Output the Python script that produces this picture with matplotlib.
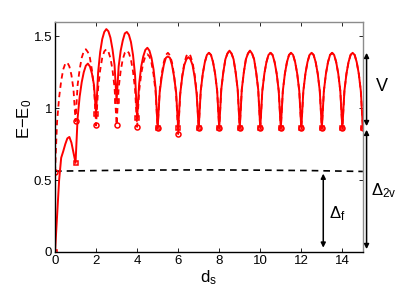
import numpy as np
import matplotlib
matplotlib.use("Agg")
from matplotlib import pyplot as plt

plt.rcParams['font.family'] = ['Liberation Sans', 'DejaVu Sans']
plt.rcParams['mathtext.fontset'] = 'custom'
plt.rcParams['mathtext.rm'] = 'Liberation Sans'
plt.rcParams['mathtext.it'] = 'Liberation Sans'

# d_s sampled every 0.1 from 0 to 15
d_s = np.linspace(0, 15, 151)

# solid curve, one row per unit interval of d_s
solid_rows = [
    [0.00, 0.25, 0.50, 0.655, 0.70, 0.75, 0.79, 0.80, 0.76, 0.69],
    [0.62, 0.93, 1.08, 1.18, 1.25, 1.295, 1.31, 1.29, 1.24, 1.16],
    [0.96, 1.25, 1.39, 1.48, 1.53, 1.55, 1.535, 1.49, 1.41, 1.30],
    [1.05, 1.29, 1.40, 1.47, 1.52, 1.53, 1.51, 1.46, 1.37, 1.23],
    [0.93, 1.17, 1.29, 1.36, 1.405, 1.42, 1.40, 1.35, 1.27, 1.14],
    [0.86, 1.11, 1.22, 1.30, 1.35, 1.36, 1.35, 1.30, 1.22, 1.11],
    [0.86, 1.10, 1.22, 1.30, 1.34, 1.355, 1.34, 1.30, 1.22, 1.10],
    [0.86, 1.12, 1.24, 1.32, 1.37, 1.385, 1.37, 1.32, 1.24, 1.12],
    [0.86, 1.13, 1.25, 1.34, 1.38, 1.40, 1.38, 1.34, 1.25, 1.13],
    [0.86, 1.13, 1.25, 1.34, 1.38, 1.40, 1.38, 1.34, 1.25, 1.13],
    [0.86, 1.12, 1.24, 1.32, 1.37, 1.385, 1.37, 1.32, 1.24, 1.12],
    [0.86, 1.12, 1.24, 1.32, 1.37, 1.385, 1.37, 1.32, 1.24, 1.12],
    [0.86, 1.12, 1.24, 1.32, 1.37, 1.385, 1.37, 1.32, 1.24, 1.12],
    [0.86, 1.12, 1.24, 1.32, 1.37, 1.385, 1.37, 1.32, 1.24, 1.12],
    [0.86, 1.12, 1.24, 1.32, 1.37, 1.385, 1.37, 1.32, 1.24, 1.12],
]
solid_end = [0.86]

# dashed curve, d_s = 0..7 (beyond that it lies on the solid one)
dashed_rows = [
    [0.555, 0.905, 1.075, 1.19, 1.27, 1.31, 1.318, 1.29, 1.23, 1.13],
    [0.91, 1.16, 1.27, 1.35, 1.395, 1.41, 1.39, 1.35, 1.265, 1.14],
    [0.88, 1.14, 1.265, 1.35, 1.395, 1.41, 1.394, 1.348, 1.267, 1.144],
    [0.885, 1.14, 1.26, 1.34, 1.385, 1.40, 1.384, 1.337, 1.255, 1.132],
    [0.87, 1.12, 1.24, 1.315, 1.36, 1.375, 1.36, 1.315, 1.235, 1.115],
    [0.86, 1.12, 1.24, 1.32, 1.37, 1.385, 1.368, 1.318, 1.231, 1.099],
    [0.82, 1.097, 1.227, 1.313, 1.363, 1.38, 1.364, 1.318, 1.238, 1.117],
]

# gap line Delta_f
gap_d = [0, 2.5, 5, 7.5, 10, 12.5, 15]
gap_e = [0.562, 0.567, 0.570, 0.571, 0.569, 0.566, 0.560]

e_solid = np.concatenate([np.ravel(solid_rows), solid_end])
e_dashed = np.concatenate([np.ravel(dashed_rows), e_solid[70:]])
idx = np.arange(0, 151, 10)

fig = plt.figure(figsize=(4.2, 2.92), dpi=100)
ax = fig.add_axes([0.131, 0.137, 0.733, 0.788])

ax.plot(gap_d, gap_e, color='k', lw=1.2, ls=(0, (4, 3)))
ax.plot(d_s, e_dashed, color='red', lw=1.3, ls=(0, (3, 2.2)))
ax.plot(d_s, e_solid, color='red', lw=1.4)
ax.plot(d_s[idx], e_dashed[idx], 'o', ms=3.6, mfc='none', mec='red', mew=1.1)
ax.plot(d_s[idx], e_solid[idx], 's', ms=3.3, mfc='none', mec='red', mew=1.1)

ax.set_xlim(0, 15)
ax.set_ylim(0, 1.6)
ax.set_xticks([0, 2, 4, 6, 8, 10, 12, 14])
ax.set_yticks([0, 0.5, 1, 1.5])
ax.set_yticklabels(['0', '0.5', '1', '1.5'])
ax.tick_params(direction='in', length=3, width=0.6, labelsize=9.5,
               top=True, right=True, pad=2)
for side in ['top', 'right']:
    ax.spines[side].set_color('#8c8c8c')
    ax.spines[side].set_linewidth(1.0)
for side in ['left', 'bottom']:
    ax.spines[side].set_linewidth(1.0)

ax.set_xlabel('d$_\\mathrm{s}$', fontsize=12, labelpad=1)
ax.set_ylabel('E$-$E$_\\mathrm{0}$', fontsize=12)
ax.yaxis.set_label_coords(-0.068, 0.58)

arr = dict(arrowstyle='<|-|>', color='k', lw=1.1, mutation_scale=7,
           shrinkA=0, shrinkB=0)
ax.annotate('', xy=(15.18, 1.385), xytext=(15.18, 0.875), arrowprops=arr,
            annotation_clip=False)
ax.annotate('', xy=(15.18, 0.85), xytext=(15.18, 0.02), arrowprops=arr,
            annotation_clip=False)
ax.annotate('', xy=(13.07, 0.545), xytext=(13.07, 0.03), arrowprops=arr,
            annotation_clip=False)

ax.text(15.95, 1.15, 'V', fontsize=13, ha='center', va='center', clip_on=False)
ax.text(15.4, 0.43, '$\\Delta_\\mathrm{2v}$', fontsize=12, ha='left',
        va='center', clip_on=False)
ax.text(13.35, 0.27, '$\\Delta_\\mathrm{f}$', fontsize=12, ha='left',
        va='center')

fig.savefig('out.png', dpi=100)
